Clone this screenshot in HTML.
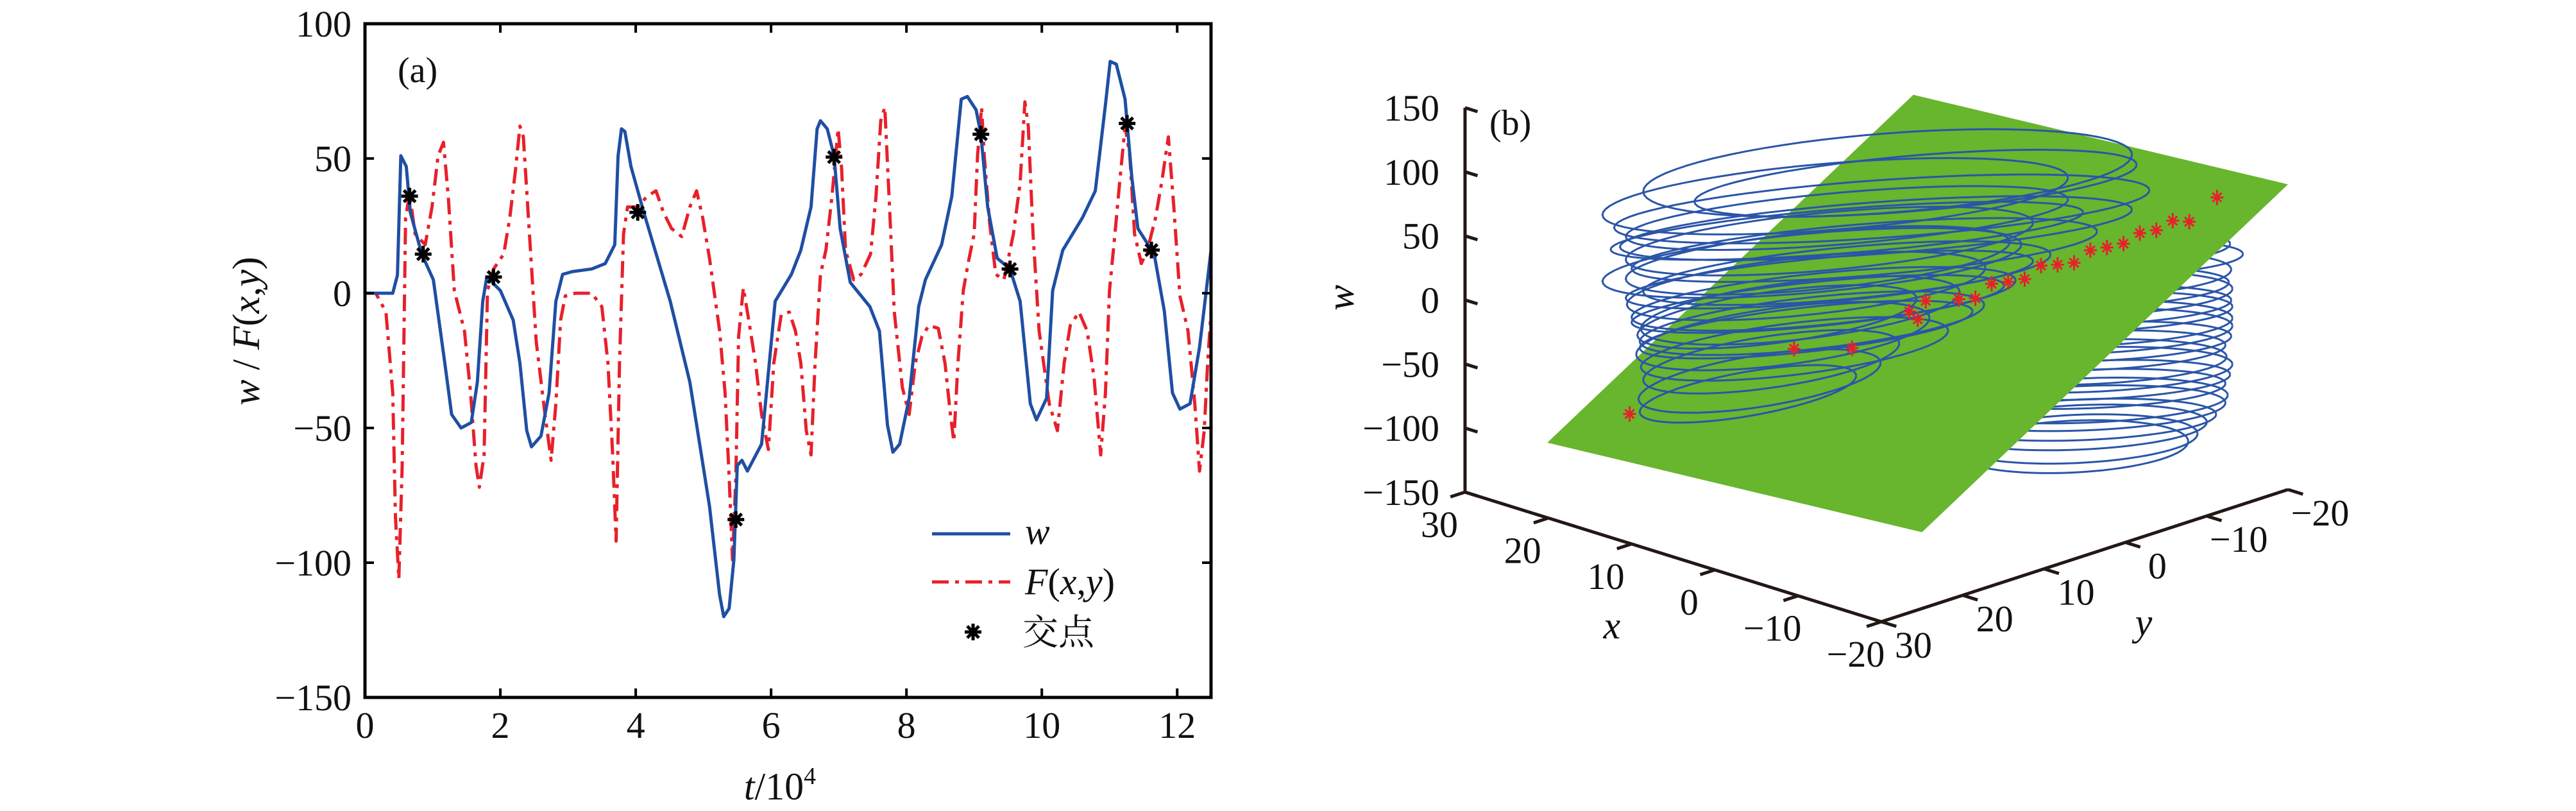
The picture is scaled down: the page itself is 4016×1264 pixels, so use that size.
<!DOCTYPE html>
<html><head><meta charset="utf-8"><style>
html,body{margin:0;padding:0;background:#fff;}
svg{display:block;}
text{font-family:"Liberation Serif","Noto Serif CJK SC",serif;fill:#111;}
</style></head><body>
<svg id="fig" width="4016" height="1264" viewBox="0 0 4016 1264" xmlns="http://www.w3.org/2000/svg">
<rect width="4016" height="1264" fill="#fff"/>
<g id="left"></g>
<g id="right"></g>
</svg>
<script>
// ---------- Panel (a) data ----------
const wT=[0,0.41,0.48,0.53,0.61,0.67,0.84,1.01,1.18,1.28,1.42,1.57,1.66,1.74,1.8,2.0,2.19,2.29,2.39,2.46,2.6,2.72,2.82,2.92,3.06,3.35,3.55,3.69,3.74,3.79,3.84,3.93,4.12,4.51,4.8,5.09,5.24,5.30,5.38,5.45,5.5,5.57,5.65,5.86,6.06,6.3,6.44,6.59,6.68,6.73,6.83,6.93,7.02,7.17,7.46,7.6,7.72,7.8,7.9,8.04,8.18,8.28,8.52,8.67,8.81,8.9,9.03,9.1,9.2,9.34,9.53,9.68,9.83,9.92,10.07,10.16,10.31,10.6,10.79,10.94,11.01,11.1,11.23,11.33,11.42,11.66,11.81,11.93,12.04,12.19,12.33,12.43,12.5];
const wV=[0,0,6.7,51,47,30,14.5,5,-26,-45,-50,-48,-33,-3,6,1,-10,-26,-51,-57,-53,-37,-3,7,8,9,11,18,51,61,60,47,30,-3,-33,-79,-112,-120,-117,-99,-64,-62,-66,-56,-3,7,16,32,61,64,61,51,24,4,-5,-14,-49,-59,-56,-39,-5,5,18,36,72,73,68,59,32,13,9,-3,-41,-47,-39,1,16,28,38,70,86,85,72,43,24,14.5,-6.6,-37,-43,-41,-20,1,16];
const fT=[0,0.16,0.31,0.41,0.45,0.5,0.55,0.6,0.66,0.74,0.89,0.99,1.08,1.16,1.23,1.32,1.47,1.56,1.64,1.69,1.76,1.81,1.9,2.05,2.14,2.22,2.29,2.34,2.43,2.53,2.66,2.75,2.82,2.89,2.96,3.11,3.35,3.5,3.59,3.66,3.71,3.76,3.82,3.88,4.03,4.17,4.3,4.41,4.53,4.68,4.8,4.9,4.99,5.09,5.24,5.32,5.38,5.43,5.48,5.52,5.59,5.67,5.77,5.86,5.96,6.04,6.15,6.27,6.36,6.44,6.52,6.59,6.65,6.73,6.81,6.9,6.99,7.04,7.1,7.22,7.33,7.47,7.55,7.62,7.68,7.75,7.82,7.94,8.04,8.13,8.23,8.33,8.47,8.57,8.65,8.7,8.76,8.84,8.91,9.0,9.05,9.11,9.15,9.23,9.32,9.44,9.58,9.68,9.75,9.8,9.87,9.96,10.11,10.23,10.33,10.42,10.55,10.67,10.77,10.87,10.94,11.0,11.08,11.15,11.23,11.3,11.37,11.47,11.56,11.68,11.77,11.87,11.95,12.04,12.16,12.26,12.33,12.4,12.45,12.5];
const fV=[0,0,-7,-37,-83,-106,-64,28,37,22,18,32,51,56,36,1,-14,-37,-64,-72,-60,1,9,14.5,28,45,62,58,22,-18,-45,-62,-41,-10,-1,0,0,-5,-26,-60,-92,-26,22,32,32,36,38,30,24,21,32,38,28,13,-14,-37,-68,-99,-68,-16,2,-10,-26,-45,-58,-26,-8,-7,-14,-26,-51,-60,-26,7,16,36,61,47,16,5,7,14.5,36,64,69,32,-7,-35,-45,-26,-16,-12,-13,-26,-45,-55,-26,1,11,22,51,69,51,26,7,5,22,41,71,62,22,-14,-41,-51,-26,-12,-7,-14,-31,-60,-37,1,22,41,62,51,22,11,16,28,41,58,32,-1,-14,-41,-66,-51,-26,-7];
const crossT=[0.66,0.86,1.9,4.03,5.48,6.93,9.1,9.53,11.26,11.62];
const crossV=[36,14.5,6,30,-84,50.5,59,9,63,16];
const xTicks=[0,2,4,6,8,10,12];
const yTicks=[-150,-100,-50,0,50,100];
const yTickLabels=["\u2212150","\u2212100","\u221250","0","50","100"];

// ---------- Panel (b) data ----------
const wTicks3=[-150,-100,-50,0,50,100,150];
const wTickLabels3=["\u2212150","\u2212100","\u221250","0","50","100","150"];
const xTicks3=[30,20,10,0,-10,-20];
const xTickLabels3=["30","20","10","0","\u221210","\u221220"];
const yTicks3=[30,20,10,0,-10,-20];
const yTickLabels3=["30","20","10","0","\u221210","\u221220"];
const leftW=[98,90,70,63,55,45,38,30,20,10,0,-9,-19,-29,-39,-49,-64,-74,53,15,-4,-24,80,28,-14];
const leftC=[3.5,5.9,3,0,2.5,-1.5,1.5,-2.5,0,-3.5,-2,-4,-3,-5.5,-4.5,-6.5,-7.5,-8.5,0,-1.5,-2.5,-3.5,-1,-3,-6];
const leftA=[21,19,23,19,22,17.5,20,16.5,17.5,15.4,16.5,13.7,14.8,12.6,13.2,11,10.4,9.3,20.3,17.5,16,14.3,20,18,12];
const leftB=[10.7,7.5,7.8,7,7,7.8,7,7.8,7,7.8,7,7.8,7,7.8,7,7,7,6,6,6,6,6,9,8,7];
const rightW=[38,30,18,8,3,-6,-11,-20,-26,-34,-41,-50,-56,-64,-71,-80,-86,-95,-101,-110,-116];
const rightC=[0,0.6,0.5,-0.4,-0.5,0.3,0.3,-0.2,-0.2,0.6,0.6,-0.3,-0.2,0.4,0,-0.4,-0.5,-0.6,-1,-1.3,-1.6];
const rightA=[12,12.5,11.6,12.3,12.7,11.8,11.9,12.4,12.4,11.5,11,12,12.4,11.6,11.6,12.2,12.1,11.4,11,10.5,10];
const rightB=[5.2,5,6,5.4,6,5.2,5.2,6,6,5.2,5.2,6,6,5.2,5.2,6,6,5.5,6,6.5,7];
const starS=[20,10,6.5,3,2.5,2,0,-1,-2,-3,-4,-5,-6,-7,-8,-9,-10,-11,-12,-13,-14,-15.7];
const starD=[0,0.8,-1.2,0.5,-0.6,1,0,-0.5,0.4,0,-0.3,0.5,0,-0.4,0.3,0,-0.2,0.3,0,0.4,-0.3,1.2];

const NS="http://www.w3.org/2000/svg";
function mk(tag,attrs,parent){const e=document.createElementNS(NS,tag);for(const k in attrs)e.setAttribute(k,attrs[k]);parent.appendChild(e);return e;}

// ===== Panel (a) =====
const L=document.getElementById('left');
const X0=569,X1=1888,Y0=37,Y1=1087;
const X=t=>X0+t/12.5*(X1-X0);
const Y=v=>Y0+(100-v)/250*(Y1-Y0);
function linePath(ts,vs){return ts.map((t,i)=>(i?'L':'M')+X(t).toFixed(1)+','+Y(vs[i]).toFixed(1)).join('');}

let fl=mk('path',{d:linePath(fT,fV),fill:'none',stroke:'#e8202a','stroke-width':5,'stroke-dasharray':'26 10 6 10','stroke-linejoin':'round'},L);


let wl=mk('path',{d:linePath(wT,wV),fill:'none',stroke:'#1f4fa3','stroke-width':5,'stroke-linejoin':'round'},L);



function cross(cx,cy,s,parent){
  const g=mk('g',{},parent);
  mk('path',{d:`M${cx-s},${cy}H${cx+s}M${cx},${cy-s}V${cy+s}M${cx-s*0.7},${cy-s*0.7}L${cx+s*0.7},${cy+s*0.7}M${cx-s*0.7},${cy+s*0.7}L${cx+s*0.7},${cy-s*0.7}`,stroke:'#000','stroke-width':5},g);
  mk('circle',{cx:cx,cy:cy,r:s*0.5,fill:'#000'},g);
  return g;
}
crossT.forEach((t,i)=>{
  const g=cross(X(t),Y(crossV[i]),13,L);
  
  
});
const lg=cross(1517,985,13,L);



let box=mk('rect',{x:X0,y:Y0,width:X1-X0,height:Y1-Y0,fill:'none',stroke:'#000','stroke-width':5},L);


xTicks.forEach(t=>{
  mk('path',{d:`M${X(t)},${Y1}v-14M${X(t)},${Y0}v14`,stroke:'#000','stroke-width':4},L);
  const tx=mk('text',{x:X(t),y:1150,'font-size':58,'text-anchor':'middle'},L);
  tx.textContent=t;
  
  
});
yTicks.forEach((v,i)=>{
  mk('path',{d:`M${X0},${Y(v)}h14M${X1},${Y(v)}h-14`,stroke:'#000','stroke-width':4},L);
  const tx=mk('text',{x:548,y:Y(v)+20,'font-size':58,'text-anchor':'end'},L);
  tx.textContent=yTickLabels[i];
  
  
});
</script>
<script>
(function(){
const L=document.getElementById('left');
L.insertAdjacentHTML('beforeend',`
<text x="620" y="128" font-size="56">(a)</text>
<text x="1216" y="1246" font-size="60" text-anchor="middle"><tspan font-style="italic">t</tspan>/10<tspan font-size="38" dy="-24">4</tspan></text>
<text transform="translate(404,516) rotate(-90)" font-size="60" text-anchor="middle"><tspan font-style="italic">w</tspan> / <tspan font-style="italic">F</tspan>(<tspan font-style="italic">x</tspan>,<tspan font-style="italic">y</tspan>)</text>
<g>
<line x1="1453" y1="832" x2="1575" y2="832" stroke="#1f4fa3" stroke-width="5"/>
<text x="1598" y="848" font-size="58" font-style="italic">w</text>
<line x1="1453" y1="907" x2="1575" y2="907" stroke="#e8202a" stroke-width="5" stroke-dasharray="26 10 6 10"/>
<text x="1598" y="926" font-size="58"><tspan font-style="italic">F</tspan>(<tspan font-style="italic">x</tspan>,<tspan font-style="italic">y</tspan>)</text>
<text x="1594" y="1005" font-size="56">交点</text>
</g>`);
})();
</script>
<script>
(function(){
const R=document.getElementById('right');
function P(x,y,w){const u=30-x,v=30-y;return [2284+u*12.98+v*12.68, 767+u*4.04-v*4.12-(w+150)*1.997];}
const plane=(x,y)=>-111.6+0.47*(25-x)+3.97*(25-y);
function loopPath(baseX,baseY,w,c,a,b,tilt){
  let d='';
  for(let k=0;k<=72;k++){
    const th=k/72*2*Math.PI;
    const e1=c+a*Math.cos(th), e2=b*Math.sin(th);
    const x=baseX-(e1-e2)/Math.SQRT2, y=baseY-(e1+e2)/Math.SQRT2;
    const p=P(x,y,w+tilt*Math.cos(th));
    d+=(k?'L':'M')+p[0].toFixed(1)+','+p[1].toFixed(1);
  }
  return d;
}
rightW.forEach((w,i)=>{
  const p=mk('path',{d:loopPath(-8,-8,w,rightC[i],rightA[i],rightB[i],4),fill:'none',stroke:'#2a55a8','stroke-width':3},R);
  
  
});
const corners=[[25,25],[-20,25],[-20,-20],[25,-20]].map(c=>P(c[0],c[1],plane(c[0],c[1])));
const pl=mk('polygon',{points:corners.map(p=>p.join(',')).join(' '),fill:'#68b52e'},R);


leftW.forEach((w,i)=>{
  const p=mk('path',{d:loopPath(6.8,6.8,w,leftC[i],leftA[i],leftB[i],14),fill:'none',stroke:'#2a55a8','stroke-width':3},R);
  
  
});
starS.forEach((s,i)=>{
  const x=s+starD[i],y=s-starD[i];
  const p=P(x,y,plane(x,y));
  const g=mk('path',{d:`M${p[0]-10},${p[1]}h20M${p[0]},${p[1]-12}v24M${p[0]-7},${p[1]-7}l14,14M${p[0]-7},${p[1]+7}l14,-14`,stroke:'#e8202a','stroke-width':3},R);
  
  
});
const ax='#231815';
const o=P(30,30,-150), wTop=P(30,30,150), xEnd=P(-20,30,-150), yEnd=P(-20,-20,-150);
const axes=mk('path',{d:`M${wTop[0]},${wTop[1]}L${o[0]},${o[1]}L${xEnd[0]},${xEnd[1]}L${yEnd[0]},${yEnd[1]}`,fill:'none',stroke:ax,'stroke-width':5},R);


wTicks3.forEach((w,i)=>{
  const a=P(30,30,w),b=P(28.5,30,w);
  mk('path',{d:`M${a[0]},${a[1]}L${b[0]},${b[1]}`,stroke:ax,'stroke-width':5},R);
  const t=mk('text',{x:2244,y:a[1]+20,'font-size':58,'text-anchor':'end'},R);
  t.textContent=wTickLabels3[i];
  
  
});
xTicks3.forEach((x,i)=>{
  const a=P(x,30,-150),b=P(x,31.8,-150);
  mk('path',{d:`M${a[0]},${a[1]}L${b[0]},${b[1]}`,stroke:ax,'stroke-width':5},R);
  const t=mk('text',{x:a[0]-40,y:a[1]+70,'font-size':58,'text-anchor':'middle'},R);
  t.textContent=xTickLabels3[i];
  
  
});
yTicks3.forEach((y,i)=>{
  const a=P(-20,y,-150),b=P(-21.8,y,-150);
  mk('path',{d:`M${a[0]},${a[1]}L${b[0]},${b[1]}`,stroke:ax,'stroke-width':5},R);
  const t=mk('text',{x:a[0]+50,y:a[1]+56,'font-size':58,'text-anchor':'middle'},R);
  t.textContent=yTickLabels3[i];
  
  
});
R.insertAdjacentHTML('beforeend',`
<text x="2322" y="210" font-size="56">(b)</text>
<text transform="translate(2110,464) rotate(-90)" font-size="60" font-style="italic" text-anchor="middle">w</text>
<text x="2513" y="995" font-size="60" font-style="italic" text-anchor="middle">x</text>
<text x="3342" y="990" font-size="60" font-style="italic" text-anchor="middle">y</text>`);
})();
</script>
</body></html>
